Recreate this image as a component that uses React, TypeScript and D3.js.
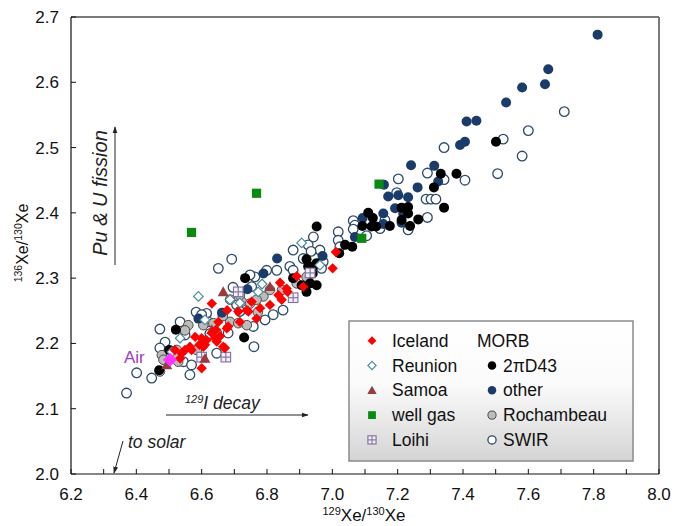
import React from 'react';
import * as d3 from 'd3';

// ---------- data (129Xe/130Xe, 136Xe/130Xe) ----------
const iceland: [number, number][] = [
  [7.011, 2.340], [7.001, 2.315], [6.911, 2.287], [6.891, 2.303], [6.840, 2.293], [6.860, 2.284],
  [6.863, 2.279], [6.845, 2.267], [6.809, 2.259], [6.779, 2.254], [6.768, 2.238], [6.743, 2.249],
  [6.712, 2.249], [6.753, 2.264], [6.631, 2.261], [6.678, 2.251], [6.738, 2.251], [6.677, 2.223],
  [6.644, 2.221], [6.631, 2.216], [6.651, 2.233], [6.681, 2.226], [6.580, 2.210], [6.600, 2.208],
  [6.593, 2.198], [6.610, 2.198], [6.615, 2.205], [6.605, 2.195], [6.641, 2.208], [6.656, 2.211],
  [6.646, 2.203], [6.666, 2.195], [6.671, 2.193], [6.564, 2.195], [6.549, 2.190], [6.539, 2.185],
  [6.534, 2.177], [6.518, 2.190], [6.569, 2.190], [6.600, 2.162], [6.835, 2.274], [6.717, 2.233],
];
const reunion: [number, number][] = [
  [6.906, 2.354], [6.590, 2.272], [6.773, 2.279], [6.610, 2.236], [6.534, 2.208], [6.687, 2.267],
  [6.785, 2.291], [6.962, 2.320], [6.509, 2.187], [6.717, 2.262],
];
const samoa: [number, number][] = [
  [6.666, 2.279], [6.809, 2.287], [6.631, 2.221], [6.610, 2.177], [6.493, 2.167],
];
const wellGas: [number, number][] = [
  [6.569, 2.370], [6.768, 2.430], [7.143, 2.444], [7.090, 2.361],
];
const loihi: [number, number][] = [
  [6.932, 2.308], [6.880, 2.270], [6.712, 2.279], [6.674, 2.179], [6.600, 2.179],
];
const air: [number, number][] = [[6.503, 2.175]];
const d43: [number, number][] = [
  [7.501, 2.509], [7.332, 2.460], [7.380, 2.460], [7.311, 2.439], [7.342, 2.408], [7.212, 2.408],
  [7.232, 2.409], [7.232, 2.399], [7.124, 2.392], [7.263, 2.390], [7.238, 2.380], [7.120, 2.379],
  [7.110, 2.400], [7.092, 2.380], [7.134, 2.379], [7.176, 2.380], [7.212, 2.389], [7.061, 2.348],
  [6.952, 2.379], [7.021, 2.338], [7.039, 2.351], [6.921, 2.329], [6.952, 2.323], [6.926, 2.318],
  [6.942, 2.318], [6.940, 2.307], [6.880, 2.300], [6.952, 2.289], [6.906, 2.289], [6.932, 2.292],
  [6.921, 2.279], [6.733, 2.300], [6.730, 2.209], [6.521, 2.221], [6.501, 2.190], [6.470, 2.159],
];
const other: [number, number][] = [
  [7.812, 2.673], [7.661, 2.620], [7.651, 2.597], [7.581, 2.592], [7.532, 2.569], [7.411, 2.540],
  [7.441, 2.541], [7.391, 2.504], [7.406, 2.509], [7.241, 2.473], [7.312, 2.472], [7.324, 2.448],
  [7.261, 2.439], [7.171, 2.425], [7.202, 2.427], [7.232, 2.424], [7.192, 2.407], [7.217, 2.399],
  [7.156, 2.399], [7.156, 2.383], [7.212, 2.385], [7.158, 2.443], [7.093, 2.392], [7.069, 2.363],
  [6.970, 2.334], [6.831, 2.330], [6.789, 2.307], [6.740, 2.283], [6.662, 2.247], [6.590, 2.238],
];
const rochambeau: [number, number][] = [
  [6.921, 2.302], [6.891, 2.292], [6.789, 2.272], [6.687, 2.267], [6.723, 2.264], [6.748, 2.261],
  [6.768, 2.267], [6.717, 2.274], [6.687, 2.233], [6.712, 2.231], [6.738, 2.228], [6.559, 2.228],
  [6.478, 2.182], [6.524, 2.190], [6.472, 2.157], [6.528, 2.172], [6.483, 2.175], [6.585, 2.190],
  [6.518, 2.182], [6.636, 2.231], [6.605, 2.228], [6.809, 2.282], [6.549, 2.220], [6.846, 2.282],
  [6.665, 2.242], [6.772, 2.248],
];
const swir: [number, number][] = [
  [7.710, 2.555], [7.600, 2.526], [7.523, 2.513], [7.581, 2.487], [7.342, 2.500], [7.291, 2.461],
  [7.342, 2.451], [7.406, 2.450], [7.506, 2.460], [7.202, 2.452], [7.197, 2.431], [7.287, 2.421],
  [7.302, 2.421], [7.317, 2.421], [7.161, 2.389], [7.291, 2.393], [7.146, 2.376], [7.232, 2.374],
  [7.064, 2.388], [7.069, 2.381], [7.064, 2.375], [7.105, 2.365], [7.018, 2.371], [7.018, 2.358],
  [7.023, 2.348], [6.942, 2.363], [6.962, 2.343], [6.972, 2.325], [6.880, 2.343], [6.926, 2.351],
  [6.935, 2.341], [6.911, 2.330], [6.967, 2.315], [6.870, 2.318], [6.880, 2.312], [6.799, 2.312],
  [6.763, 2.302], [6.753, 2.287], [6.830, 2.312], [6.692, 2.329], [6.651, 2.315], [6.748, 2.305],
  [6.819, 2.244], [6.758, 2.226], [6.760, 2.195], [6.615, 2.246], [6.534, 2.233], [6.472, 2.222],
  [6.401, 2.155], [6.370, 2.124], [6.447, 2.147], [6.564, 2.152], [6.583, 2.248], [6.549, 2.213],
  [6.488, 2.202], [6.696, 2.286], [6.794, 2.236], [6.849, 2.251], [6.707, 2.259], [6.625, 2.215],
  [6.600, 2.244], [6.620, 2.233], [6.646, 2.216], [6.681, 2.216], [6.717, 2.249], [6.472, 2.193],
  [6.544, 2.172], [6.569, 2.167], [6.513, 2.180], [6.646, 2.185],
];

const xTicks = d3.range(62, 81).map((v) => v / 10);
const xLabels = d3.range(31, 41).map((v) => (v / 5));
const yTicks = d3.range(20, 28).map((v) => v / 10);

const FONT = '"Liberation Sans", Arial, Helvetica, sans-serif';

const x = d3.scaleLinear().domain([6.2, 8.0]).range([71, 659]);
const y = d3.scaleLinear().domain([2.0, 2.7]).range([474, 17]);

type Kind = 'diamond' | 'odiamond' | 'tri' | 'square' | 'loihi' | 'dot' | 'navy' | 'gray' | 'open' | 'air';

function Marker({ kind, cx, cy, s = 1 }: { kind: Kind; cx: number; cy: number; s?: number }) {
  switch (kind) {
    case 'diamond': {
      const r = 5.2 * s;
      return <path d={`M${cx},${cy - r}L${cx + r},${cy}L${cx},${cy + r}L${cx - r},${cy}Z`} fill="#ff0000" />;
    }
    case 'air': {
      const r = 7 * s;
      return <path d={`M${cx},${cy - r}L${cx + r},${cy}L${cx},${cy + r}L${cx - r},${cy}Z`} fill="#ff33ff" />;
    }
    case 'odiamond': {
      const r = 4.8 * s;
      return <path d={`M${cx},${cy - r}L${cx + r},${cy}L${cx},${cy + r}L${cx - r},${cy}Z`} fill="#ffffff" stroke="#4d8b9b" strokeWidth={1.2} />;
    }
    case 'tri': {
      const r = 5.5 * s;
      return <path d={`M${cx},${cy - r}L${cx + r},${cy + r * 0.8}L${cx - r},${cy + r * 0.8}Z`} fill="#9a3b3b" />;
    }
    case 'square': {
      const r = 4.6 * s;
      return <rect x={cx - r} y={cy - r} width={2 * r} height={2 * r} fill="#0b8a12" />;
    }
    case 'loihi': {
      const r = 4.8 * s;
      return (
        <g stroke="#7e6f9c" strokeWidth={1.1} fill="none">
          <rect x={cx - r} y={cy - r} width={2 * r} height={2 * r} fill="#f2eff7" />
          <line x1={cx} y1={cy - r} x2={cx} y2={cy + r} />
          <line x1={cx - r} y1={cy} x2={cx + r} y2={cy} />
        </g>
      );
    }
    case 'dot':
      return <circle cx={cx} cy={cy} r={5 * s} fill="#000000" />;
    case 'navy':
      return <circle cx={cx} cy={cy} r={5 * s} fill="#1b3c6b" />;
    case 'gray':
      return <circle cx={cx} cy={cy} r={4.8 * s} fill="#bcbcbc" stroke="#4a4a4a" strokeWidth={1} />;
    case 'open':
      return <circle cx={cx} cy={cy} r={4.8 * s} fill="#ffffff" stroke="#2d4a6a" strokeWidth={1.3} />;
  }
  return null;
}

const seriesOrder: { data: [number, number][]; kind: Kind }[] = [
  { data: swir, kind: 'open' },
  { data: rochambeau, kind: 'gray' },
  { data: other, kind: 'navy' },
  { data: d43, kind: 'dot' },
  { data: reunion, kind: 'odiamond' },
  { data: loihi, kind: 'loihi' },
  { data: samoa, kind: 'tri' },
  { data: iceland, kind: 'diamond' },
  { data: wellGas, kind: 'square' },
  { data: air, kind: 'air' },
];

const legendLeft: { label: string; kind: Kind }[] = [
  { label: 'Iceland', kind: 'diamond' },
  { label: 'Reunion', kind: 'odiamond' },
  { label: 'Samoa', kind: 'tri' },
  { label: 'well gas', kind: 'square' },
  { label: 'Loihi', kind: 'loihi' },
];
const legendRight: { label: string; kind: Kind }[] = [
  { label: '2\u03C0D43', kind: 'dot' },
  { label: 'other', kind: 'navy' },
  { label: 'Rochambeau', kind: 'gray' },
  { label: 'SWIR', kind: 'open' },
];

export default function App() {
  const rowY = (i: number) => 340.7 + i * 24.8;
  return (
    <svg width={675} height={526} style={{ position: 'absolute', left: 0, top: 0, background: '#fff' }} fontFamily={FONT}>
      <defs>
        <linearGradient id="lg" x1="0" y1="0" x2="0" y2="1">
          <stop offset="0" stopColor="#ffffff" />
          <stop offset="0.45" stopColor="#fbfbfb" />
          <stop offset="1" stopColor="#d4d4d4" />
        </linearGradient>
        <marker id="arr" viewBox="0 0 10 10" refX="9" refY="5" markerWidth="7" markerHeight="7" orient="auto-start-reverse">
          <path d="M0,1.5L10,5L0,8.5Z" fill="#222" />
        </marker>
      </defs>
      <rect width={675} height={526} fill="#fff" />

      {/* frame: top and right gray */}
      <line x1={71} y1={17} x2={659} y2={17} stroke="#7a7a7a" strokeWidth={2} />
      <line x1={659} y1={17} x2={659} y2={474} stroke="#7a7a7a" strokeWidth={2} />

      {/* points */}
      {seriesOrder.map((s, si) => (
        <g key={si}>
          {s.data.map((d, i) => (
            <Marker key={i} kind={s.kind} cx={x(d[0])} cy={y(d[1])} />
          ))}
        </g>
      ))}

      {/* axes */}
      <line x1={71} y1={474} x2={659} y2={474} stroke="#111" strokeWidth={1.2} />
      <line x1={71} y1={17} x2={71} y2={474} stroke="#111" strokeWidth={1.2} />
      {xTicks.map((t, i) => (
        <line key={i} x1={x(t)} x2={x(t)} y1={474} y2={469} stroke="#111" strokeWidth={1} />
      ))}
      {yTicks.map((t, i) => (
        <line key={i} x1={71} x2={76} y1={y(t)} y2={y(t)} stroke="#111" strokeWidth={1} />
      ))}
      {xLabels.map((t, i) => (
        <text key={i} x={x(t)} y={500} textAnchor="middle" fontSize={17} fill="#111">
          {t.toFixed(1)}
        </text>
      ))}
      {yTicks.map((t, i) => (
        <text key={i} x={59} y={y(t) + 6} textAnchor="end" fontSize={17} fill="#111">
          {t.toFixed(1)}
        </text>
      ))}

      {/* axis titles */}
      <text x={364} y={521} textAnchor="middle" fontSize={17} fill="#111">
        <tspan fontSize={11} dy={-6}>129</tspan>
        <tspan dy={6}>Xe/</tspan>
        <tspan fontSize={11} dy={-6}>130</tspan>
        <tspan dy={6}>Xe</tspan>
      </text>
      <text transform="translate(28,243) rotate(-90)" textAnchor="middle" fontSize={16} fill="#111">
        <tspan fontSize={10.5} dy={-6}>136</tspan>
        <tspan dy={6}>Xe/</tspan>
        <tspan fontSize={10.5} dy={-6}>130</tspan>
        <tspan dy={6}>Xe</tspan>
      </text>

      {/* annotations */}
      <line x1={115} y1={265} x2={115} y2={127} stroke="#222" strokeWidth={1} markerEnd="url(#arr)" />
      <text transform="translate(107,193) rotate(-90)" textAnchor="middle" fontSize={20} fontStyle="italic" fill="#222">
        Pu &amp; U fission
      </text>
      <line x1={166} y1={415} x2={308} y2={415} stroke="#222" strokeWidth={1} markerEnd="url(#arr)" />
      <text x={185} y={409} fontSize={17.5} fontStyle="italic" fill="#222">
        <tspan fontSize={11} dy={-6}>129</tspan>
        <tspan dy={6}>I decay</tspan>
      </text>
      <line x1={123} y1={441} x2={114} y2={473} stroke="#222" strokeWidth={1} markerEnd="url(#arr)" />
      <text x={128} y={448} fontSize={17.5} fontStyle="italic" fill="#222">to solar</text>
      <text x={124} y={363} fontSize={17} fill="#9b3fc0">Air</text>

      {/* legend */}
      <rect x={349} y={321} width={284} height={140} fill="url(#lg)" stroke="#8a8a8a" strokeWidth={1.5} />
      {legendLeft.map((l, i) => (
        <g key={i}>
          <Marker kind={l.kind} cx={372} cy={rowY(i)} s={0.85} />
          <text x={392} y={rowY(i) + 6} fontSize={17.5} fill="#111">{l.label}</text>
        </g>
      ))}
      <text x={477} y={rowY(0) + 6} fontSize={17.5} fill="#111">MORB</text>
      {legendRight.map((l, i) => (
        <g key={i}>
          <Marker kind={l.kind} cx={492} cy={rowY(i + 1)} s={0.85} />
          <text x={503} y={rowY(i + 1) + 6} fontSize={17.5} fill="#111">{l.label}</text>
        </g>
      ))}
    </svg>
  );
}
